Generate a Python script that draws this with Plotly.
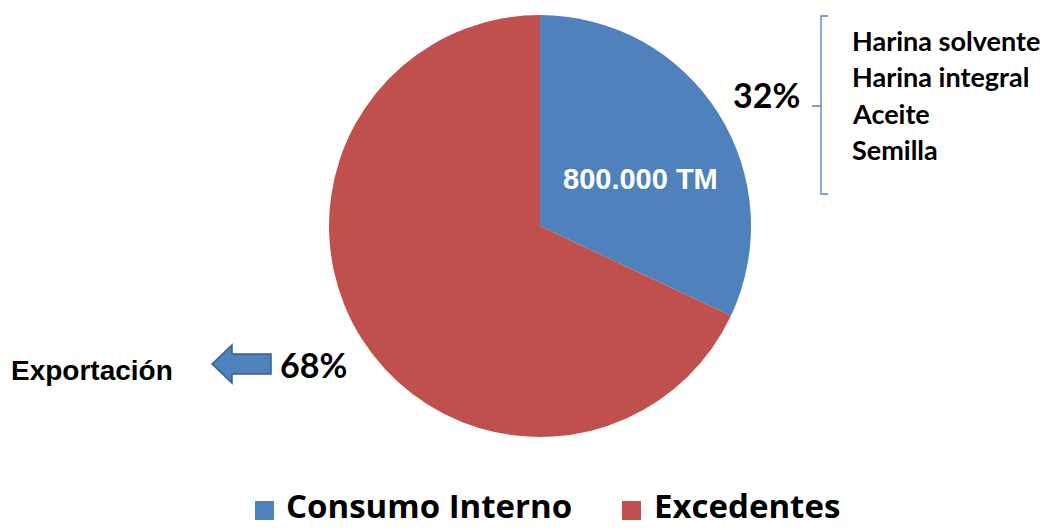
import plotly.graph_objects as go

# Destino de la producción
categorias = ["Consumo Interno", "Excedentes"]
toneladas = [800000, 1700000]
colores = ["#4F81BD", "#C0504D"]
productos = ["Harina solvente", "Harina integral", "Aceite", "Semilla"]
destino_excedentes = "Exportación"

W, H = 1047, 530


def px(x):
    return x / W


def py(y):
    return 1 - y / H


total = sum(toneladas)
porcentajes = [round(100 * v / total) for v in toneladas]

cx, cy, r = 540, 226, 211

fig = go.Figure(
    go.Pie(
        labels=categorias,
        values=toneladas,
        marker=dict(colors=colores, line=dict(width=0)),
        sort=False,
        direction="clockwise",
        rotation=0,
        textinfo="none",
        hoverinfo="label+percent",
        showlegend=False,
        domain=dict(x=[px(cx - r), px(cx + r)], y=[py(cy + r), py(cy - r)]),
    )
)

calibri_like = "Lato"
arial_like = "Liberation Sans"

annotations = []
shapes = []

# Etiqueta de valor dentro del sector azul
annotations.append(dict(
    x=px(640), y=py(179), xref="paper", yref="paper",
    text="<b>" + f"{toneladas[0]:,}".replace(",", ".") + " TM</b>",
    showarrow=False, xanchor="center", yanchor="middle",
    font=dict(family=arial_like, size=29, color="white"),
))

# Porcentajes
annotations.append(dict(
    x=px(731), y=py(95), xref="paper", yref="paper",
    text=f"<b>{porcentajes[0]}%</b>", showarrow=False,
    xanchor="left", yanchor="middle",
    font=dict(family=calibri_like, size=34, color="black"),
))
annotations.append(dict(
    x=px(278), y=py(364), xref="paper", yref="paper",
    text=f"<b>{porcentajes[1]}%</b>", showarrow=False,
    xanchor="left", yanchor="middle",
    font=dict(family=calibri_like, size=34, color="black"),
))

# Lista de productos de consumo interno
for i, p in enumerate(productos):
    annotations.append(dict(
        x=px(850), y=py(41 + 36 * i), xref="paper", yref="paper",
        text=f"<b>{p}</b>", showarrow=False,
        xanchor="left", yanchor="middle",
        font=dict(family=calibri_like, size=27, color="black"),
    ))

# Llave
llave = "#4F81BD"
shapes.append(dict(
    type="path", xref="paper", yref="paper",
    path=(f"M {px(828)},{py(16)} L {px(821)},{py(16)} L {px(821)},{py(194)} L {px(828)},{py(194)}"
          f" M {px(821)},{py(106)} L {px(812)},{py(106)}"),
    line=dict(color=llave, width=1.3),
))

# Flecha hacia exportación
ax0, ax1, ahead = 212, 271, 232
ay, half_h, half_s = 364, 19, 10
flecha = (
    f"M {px(ax0)},{py(ay)} L {px(ahead)},{py(ay - half_h)} L {px(ahead)},{py(ay - half_s)} "
    f"L {px(ax1)},{py(ay - half_s)} L {px(ax1)},{py(ay + half_s)} L {px(ahead)},{py(ay + half_s)} "
    f"L {px(ahead)},{py(ay + half_h)} Z"
)
shapes.append(dict(
    type="path", xref="paper", yref="paper", path=flecha,
    fillcolor="#4F81BD", line=dict(color="#385D8A", width=1.5),
))
annotations.append(dict(
    x=px(9), y=py(370), xref="paper", yref="paper",
    text=f"<b>{destino_excedentes}</b>", showarrow=False,
    xanchor="left", yanchor="middle",
    font=dict(family=arial_like, size=28, color="black"),
))

# Leyenda
leyenda = [(255, 284), (622, 652)]
for (sx, tx), cat, col in zip(leyenda, categorias, colores):
    shapes.append(dict(
        type="rect", xref="paper", yref="paper",
        x0=px(sx), x1=px(sx + 19), y0=py(520), y1=py(501),
        fillcolor=col, line=dict(width=0),
    ))
    annotations.append(dict(
        x=px(tx), y=0, xref="paper", yref="paper",
        text=f"<b>{cat}</b>", showarrow=False,
        xanchor="left", yanchor="bottom",
        font=dict(family="Open Sans", size=33, color="black"),
    ))

fig.update_layout(
    width=W, height=H,
    margin=dict(l=0, r=0, t=0, b=0),
    paper_bgcolor="white", plot_bgcolor="white",
    annotations=annotations, shapes=shapes,
)

fig.write_html("out.html")
